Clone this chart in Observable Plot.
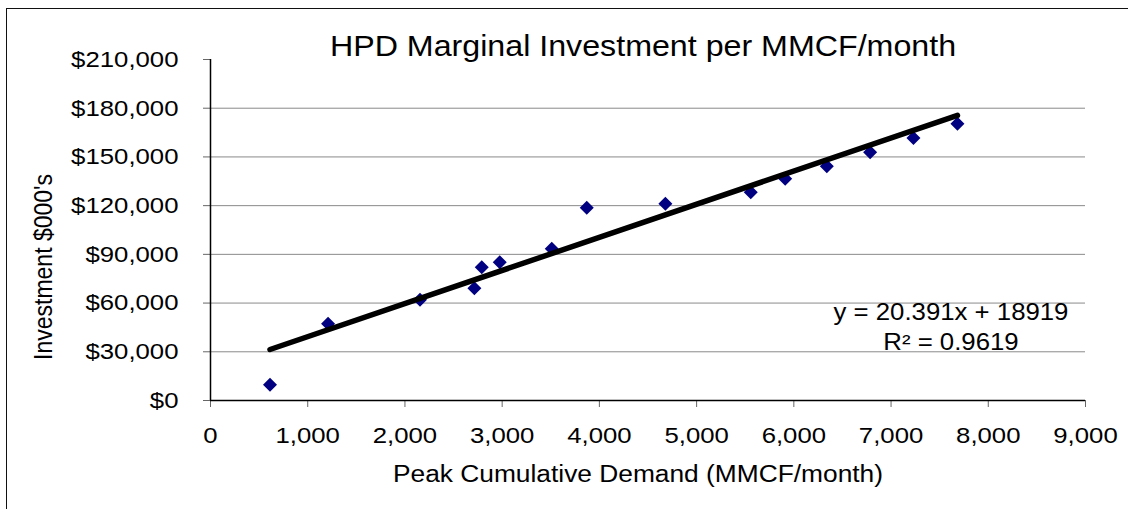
<!DOCTYPE html>
<html><head><meta charset="utf-8">
<script src="https://cdn.jsdelivr.net/npm/d3@7"></script>
<script src="https://cdn.jsdelivr.net/npm/@observablehq/plot@0.6"></script>
<style>
html,body{margin:0;padding:0;background:#fff;overflow:hidden;}
#wrap{position:relative;width:1128px;height:509px;overflow:hidden;font-family:"Liberation Sans",Arial,sans-serif;color:#000;background:#fff;}
#frame{position:absolute;left:6px;top:8px;width:1300px;height:700px;border-left:1.5px solid #111;border-top:1.5px solid #111;}
#chart{position:absolute;left:0;top:0;}
.t{position:absolute;white-space:nowrap;line-height:1;}
#title{font-size:29px;left:643px;top:31.5px;transform:translateX(-50%) scaleX(1.11);}
#xtitle{font-size:23.5px;left:638px;top:463px;transform:translateX(-50%) scaleX(1.12);}
#ytitle{font-size:23px;left:44px;top:266.5px;transform:translate(-50%,-50%) rotate(-90deg) scaleY(1.12);}
#eq1{font-size:23px;left:951px;top:300.5px;transform:translateX(-50%) scaleX(1.12);}
#eq2{font-size:23px;left:951px;top:330.5px;transform:translateX(-50%) scaleX(1.12);}
</style></head><body>
<div id="wrap">
  <div id="frame"></div>
  <div id="chart"></div>
  <div class="t" id="title">HPD Marginal Investment per MMCF/month</div>
  <div class="t" id="xtitle">Peak Cumulative Demand (MMCF/month)</div>
  <div class="t" id="ytitle">Investment $000's</div>
  <div class="t" id="eq1">y = 20.391x + 18919</div>
  <div class="t" id="eq2">R² = 0.9619</div>
</div>
<script>
// Data
const demand = [612, 1209, 2155, 2714, 2790, 2975, 3510, 3870, 4679, 5557, 5911, 6339, 6785, 7230, 7683];
const investment = [9670, 47250, 62030, 69180, 82120, 85200, 93440, 118700, 121150, 128300, 136550, 144300, 152950, 161600, 170450];
// Trendline coefficients (from chart label)
const slope = 20.391;
const intercept = 18919;
// Tick values
const xTicks = [0, 1000, 2000, 3000, 4000, 5000, 6000, 7000, 8000, 9000];
const yTicks = [0, 30000, 60000, 90000, 120000, 150000, 180000, 210000];

const points = demand.map((x, i) => ({x, y: investment[i]}));
const trend = d3.extent(demand).map(x => ({x, y: slope * x + intercept}));

const diamond = {
  draw(ctx, size) {
    const r = Math.sqrt(size / Math.PI);
    ctx.moveTo(0, -r); ctx.lineTo(r, 0); ctx.lineTo(0, r); ctx.lineTo(-r, 0); ctx.closePath();
  }
};

const plot = Plot.plot({
  width: 1128, height: 509,
  marginLeft: 210, marginRight: 43, marginTop: 59, marginBottom: 109,
  style: {fontFamily: "Liberation Sans, Arial, sans-serif", background: "transparent", color: "#000"},
  x: {domain: [0, 9000]},
  y: {domain: [0, 210000]},
  marks: [
    Plot.ruleY(yTicks.filter(v => v > 0 && v < 210000), {stroke: "#8a8a8a", strokeWidth: 1}),
    Plot.axisX(xTicks, {tickSize: 7, tickPadding: 19, tickFormat: d3.format(","), fontSize: 23, stroke: "#666", label: null}),
    Plot.axisY(yTicks, {tickSize: 7, tickPadding: 25, tickFormat: d => "$" + d3.format(",")(d), fontSize: 23, stroke: "#666", label: null}),
    Plot.ruleX([0], {stroke: "#000", strokeWidth: 1.5}),
    Plot.ruleY([0], {stroke: "#000", strokeWidth: 1.5}),
    Plot.dot(points, {x: "x", y: "y", symbol: diamond, r: 7, fill: "#000080", stroke: "none"}),
    Plot.line(trend, {x: "x", y: "y", stroke: "#000", strokeWidth: 5.5, strokeLinecap: "round"})
  ]
});

// widen tick labels horizontally to match the reference's proportions
plot.querySelectorAll("text").forEach(t => {
  const xa = t.getAttribute("x");
  let x = 0;
  if (xa !== null && !isNaN(+xa)) { x = +xa; t.removeAttribute("x"); }
  const tr = t.getAttribute("transform") || "";
  t.setAttribute("transform", `${tr} translate(${x},0) scale(1.12,1)`);
});

document.getElementById("chart").appendChild(plot);
</script>
</body></html>
